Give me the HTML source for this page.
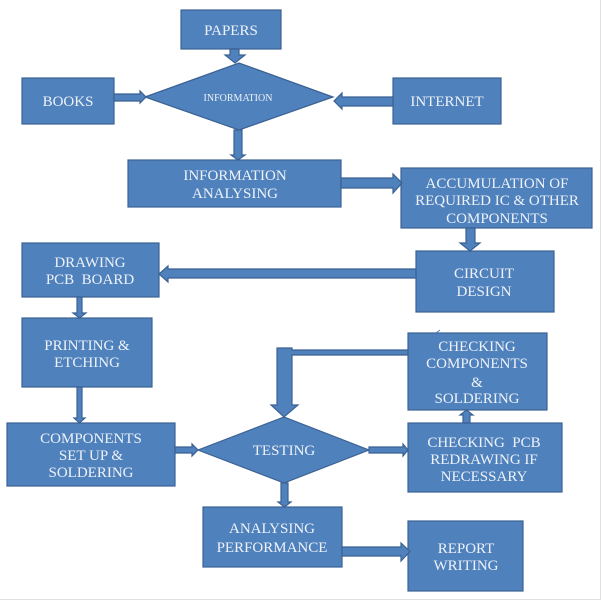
<!DOCTYPE html>
<html><head><meta charset="utf-8"><style>
html,body{margin:0;padding:0;background:#fff;width:601px;height:600px;overflow:hidden}
svg{display:block}
text{font-family:"Liberation Serif",serif;fill:#eef2f8;text-anchor:middle;font-size:15px}
</style></head><body>
<svg width="601" height="600" viewBox="0 0 601 600" xmlns="http://www.w3.org/2000/svg">
<g fill="#4f81bd" stroke="#3b6192" stroke-width="1.2">
<rect x="181" y="10" width="100" height="39"/>
<rect x="22" y="78" width="92" height="46"/>
<rect x="393" y="78" width="108" height="46"/>
<polygon points="145,97 239,63 333,97 239,130"/>
<rect x="128" y="160" width="213" height="47"/>
<rect x="401" y="168" width="191" height="60"/>
<rect x="416" y="251" width="138" height="61"/>
<rect x="22" y="243" width="137" height="54"/>
<rect x="22" y="318" width="130" height="69"/>
<rect x="408" y="333" width="139" height="77"/>
<rect x="7" y="423" width="168" height="63"/>
<polygon points="198,450 284,417 369,450 284,483"/>
<rect x="408" y="423" width="154" height="69"/>
<rect x="203" y="507" width="139" height="60"/>
<rect x="408" y="521" width="115" height="70"/>
<polygon points="230,49 239,49 239,55 245,55 235,63 225,55 230,55"/>
<polygon points="114,94 140,94 140,91 146,97 140,103 140,101 114,101"/>
<polygon points="393,97 342,97 342,93 334,101 342,109 342,106 393,106"/>
<polygon points="234,130 242,130 242,155 245,155 238,160 231,155 234,155"/>
<polygon points="341,178 393,178 393,174 402,183 393,193 393,188 341,188"/>
<polygon points="466,228 475,228 475,243 480,243 470,251 460,243 466,243"/>
<polygon points="416,269 168,269 168,266 159,274 168,282 168,278 416,278"/>
<polygon points="77,297 82,297 82,313 86,313 79.5,318 73,313 77,313"/>
<polygon points="77,387 82,387 82,418 85,418 79.5,423 74,418 77,418"/>
<polygon points="175,447 192,447 192,444 198,450 192,456 192,453 175,453"/>
<polygon points="369,447 403,447 403,444 408,450 403,456 403,453 369,453"/>
<polygon points="463,423 470,423 470,415 473,415 466.5,410 460,415 463,415"/>
<polygon points="408,350 292,350 292,348 277,348 277,405 271,405 284,417 298,405 292,405 292,355 408,355"/>
<polygon points="281,483 288,483 288,502 291,502 284.5,507 278,502 281,502"/>
<polygon points="342,547 401,547 401,543 410,551.5 401,561 401,556 342,556"/>
</g>
<line x1="436" y1="333" x2="440" y2="330" stroke="#4f81bd" stroke-width="1"/>
<line x1="600.5" y1="0" x2="600.5" y2="600" stroke="#e0e0e0" stroke-width="1"/>
<line x1="0" y1="599.5" x2="601" y2="599.5" stroke="#e0e0e0" stroke-width="1"/>
<text x="231" y="35">PAPERS</text>
<text x="68" y="106">BOOKS</text>
<text x="447" y="106">INTERNET</text>
<text x="238" y="101" style="font-size:10px">INFORMATION</text>
<text x="235" y="180">INFORMATION</text>
<text x="235" y="198">ANALYSING</text>
<text x="497" y="188">ACCUMULATION OF</text>
<text x="497" y="205">REQUIRED IC &amp; OTHER</text>
<text x="497" y="223">COMPONENTS</text>
<text x="484" y="278">CIRCUIT</text>
<text x="484" y="296">DESIGN</text>
<text x="90" y="267">DRAWING</text>
<text x="90" y="284">PCB&#160; BOARD</text>
<text x="87" y="350">PRINTING &amp;</text>
<text x="87" y="367">ETCHING</text>
<text x="477" y="351">CHECKING</text>
<text x="477" y="368">COMPONENTS</text>
<text x="477" y="387">&amp;</text>
<text x="477" y="403">SOLDERING</text>
<text x="91" y="443">COMPONENTS</text>
<text x="91" y="460">SET UP &amp;</text>
<text x="91" y="477">SOLDERING</text>
<text x="284" y="455">TESTING</text>
<text x="484" y="447">CHECKING&#160; PCB</text>
<text x="484" y="464">REDRAWING IF</text>
<text x="484" y="481">NECESSARY</text>
<text x="272" y="533">ANALYSING</text>
<text x="272" y="552">PERFORMANCE</text>
<text x="466" y="553">REPORT</text>
<text x="466" y="570">WRITING</text>
</svg>
</body></html>
